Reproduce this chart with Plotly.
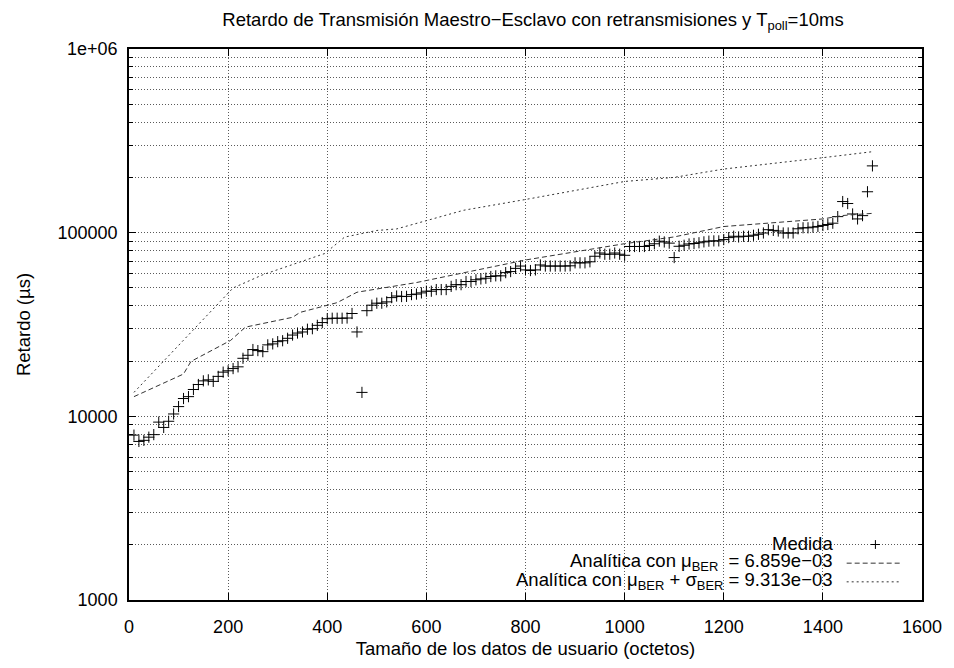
import plotly.graph_objects as go

# ---------------- data ----------------
size_bytes = list(range(10, 1501, 10))
medida_us = [
    7900, 7300, 7400, 7700, 7950, 9300, 8700, 9400, 10300, 11300,
    12500, 12800, 14000, 14900, 15600, 15800, 15500, 16500, 17400, 17700,
    18200, 18600, 20700, 21500, 23100, 22800, 22500, 24500, 24800, 25500,
    25800, 26600, 27700, 28400, 28800, 29800, 30000, 31300, 32400, 34000,
    34200, 34200, 34200, 34300, 36300, 28800, 13500, 37600, 40300, 41300,
    41300, 42000, 44300, 45200, 44900, 45000, 46000, 46300, 47000, 48000,
    48000, 49000, 49000, 49000, 51000, 52100, 52100, 54200, 54200, 55400,
    56000, 56500, 57700, 58200, 58200, 60600, 61400, 63900, 65800, 62700,
    62200, 62700, 66700, 65800, 65800, 65800, 65800, 65800, 66000, 68500,
    68500, 68500, 69400, 74400, 77500, 76300, 76300, 77500, 76300, 75300,
    84100, 84100, 84100, 84100, 85200, 87000, 89900, 89000, 87700, 73200,
    84300, 85400, 86800, 87300, 88100, 89100, 89900, 90200, 90200, 91700,
    94000, 95600, 94800, 95600, 95600, 96800, 98000, 99600, 103800, 102900,
    102100, 99600, 99600, 99600, 105000, 106300, 106300, 107200, 108100, 109500,
    110800, 112600, 122300, 147700, 144100, 126400, 118800, 123800, 167000, 231000,
]

mu_x = [10, 110, 125, 205, 235, 330, 345, 420, 460, 500, 555, 580, 800,
        1000, 1100, 1200, 1400, 1420, 1440, 1500]
mu_y = [12800, 17000, 19900, 25900, 30600, 34600, 36800, 41600, 47400, 49500,
        52200, 53500, 71000, 87100, 94800, 108000, 118800, 121300, 124000, 127400]

sigma_x = [10, 130, 210, 270, 355, 395, 435, 500, 540, 600, 675, 800,
           1000, 1100, 1200, 1400, 1500]
sigma_y = [13500, 29400, 50000, 59000, 71000, 77000, 94600, 102800, 104800,
           116000, 132400, 151600, 190000, 200000, 222000, 256000, 276000]

x_ticks = [0, 200, 400, 600, 800, 1000, 1200, 1400, 1600]
y_ticks = [1000, 10000, 100000, 1000000]
y_ticktext = ["1000", "10000", "100000", "1e+06"]

legend_labels = [
    "Medida",
    "Analítica con μ<sub>BER</sub>  = 6.859e−03",
    "Analítica con μ<sub>BER</sub> + σ<sub>BER</sub> = 9.313e−03",
]

title_text = "Retardo de Transmisión Maestro−Esclavo con retransmisiones y T<sub>poll</sub>=10ms"
x_title = "Tamaño de los datos de usuario (octetos)"
y_title = "Retardo (µs)"

# ---------------- figure ----------------
FONT = "Liberation Sans, Arial, Helvetica, sans-serif"
FS = 18.5      # titles / key
FS_TICK = 18   # tick labels
GRID = "#5a5a5a"
LINE = "#333333"

fig = go.Figure()

fig.add_trace(go.Scatter(
    x=size_bytes, y=medida_us, mode="markers", name=legend_labels[0],
    marker=dict(symbol="cross-thin", size=8, color="black",
                line=dict(width=1, color="black")),
    showlegend=False,
))
fig.add_trace(go.Scatter(
    x=mu_x, y=mu_y, mode="lines", name=legend_labels[1],
    line=dict(color=LINE, width=1, dash="5px,3px"),
    showlegend=False,
))
fig.add_trace(go.Scatter(
    x=sigma_x, y=sigma_y, mode="lines", name=legend_labels[2],
    line=dict(color=LINE, width=1, dash="2px,3px"),
    showlegend=False,
))

W, H = 954, 668
PLOT_L, PLOT_R, PLOT_T, PLOT_B = 129, 929, 48.5, 609.5   # screen pixels
L, R, T, B = PLOT_L, W - PLOT_R, PLOT_T, H - PLOT_B


def px(xs):
    return (xs - PLOT_L) / (PLOT_R - PLOT_L)


def py(ys):
    return (PLOT_B - ys) / (PLOT_B - PLOT_T)


# gnuplot-style key: text right aligned, sample on the right
shapes = [
    dict(type="rect", xref="paper", yref="paper", x0=px(450), x1=px(915),
         y0=0, y1=py(545), fillcolor="white", line=dict(width=0), layer="between"),
    dict(type="line", xref="paper", yref="paper", x0=px(877.5), x1=px(886.5),
         y0=py(553), y1=py(553), line=dict(color="black", width=1)),
    dict(type="line", xref="paper", yref="paper", x0=px(882), x1=px(882),
         y0=py(548.5), y1=py(557.5), line=dict(color="black", width=1)),
    dict(type="line", xref="paper", yref="paper", x0=px(853), x1=px(907),
         y0=py(572), y1=py(572), line=dict(color=LINE, width=1, dash="5px,3px")),
    dict(type="line", xref="paper", yref="paper", x0=px(853), x1=px(907),
         y0=py(591), y1=py(591), line=dict(color=LINE, width=1, dash="2px,3px")),
]

annotations = []
for label, yy in zip(legend_labels, [552, 571, 590]):
    annotations.append(dict(
        xref="paper", yref="paper", x=px(841), y=py(yy), text=label,
        showarrow=False, xanchor="right", yanchor="middle",
        font=dict(family=FONT, size=FS, color="black"),
    ))

fig.update_layout(
    width=W, height=H,
    margin=dict(l=L, r=R, t=T, b=B, pad=0),
    paper_bgcolor="white", plot_bgcolor="white",
    font=dict(family=FONT, size=FS, color="black"),
    title=dict(text=title_text, x=533 / W, xanchor="center", xref="container",
               y=1 - 20 / H, yanchor="middle", yref="container",
               font=dict(family=FONT, size=FS, color="black")),
    showlegend=False,
    shapes=shapes,
    annotations=annotations,
)

fig.update_xaxes(
    range=[0, 1600], tickvals=x_ticks, ticktext=[str(v) for v in x_ticks],
    showline=True, linecolor="black", linewidth=1.5, mirror="allticks",
    ticks="inside", ticklen=7, tickwidth=1, tickcolor="black",
    showgrid=True, gridcolor=GRID, gridwidth=1, griddash="1px,2px",
    zeroline=False, ticklabelstandoff=10,
    title=dict(text=x_title, standoff=6, font=dict(family=FONT, size=FS)),
    tickfont=dict(family=FONT, size=FS_TICK),
)

fig.update_yaxes(
    type="log", range=[3, 6], tickvals=y_ticks, ticktext=y_ticktext,
    showline=True, linecolor="black", linewidth=1.5, mirror="allticks",
    ticks="inside", ticklen=7, tickwidth=1, tickcolor="black",
    showgrid=True, gridcolor=GRID, gridwidth=1, griddash="1px,2px",
    zeroline=False, ticklabelstandoff=6,
    minor=dict(dtick="D1", ticks="inside", ticklen=4, tickcolor="black",
               showgrid=True, gridcolor=GRID, gridwidth=1, griddash="1px,2px"),
    title=dict(text=y_title, standoff=22, font=dict(family=FONT, size=FS)),
    tickfont=dict(family=FONT, size=FS_TICK),
)

# remove the default 8px page margin so the figure sits at the window origin
fig.write_html("out.html", config={"displayModeBar": False},
               post_script="document.body.style.margin='0';")
